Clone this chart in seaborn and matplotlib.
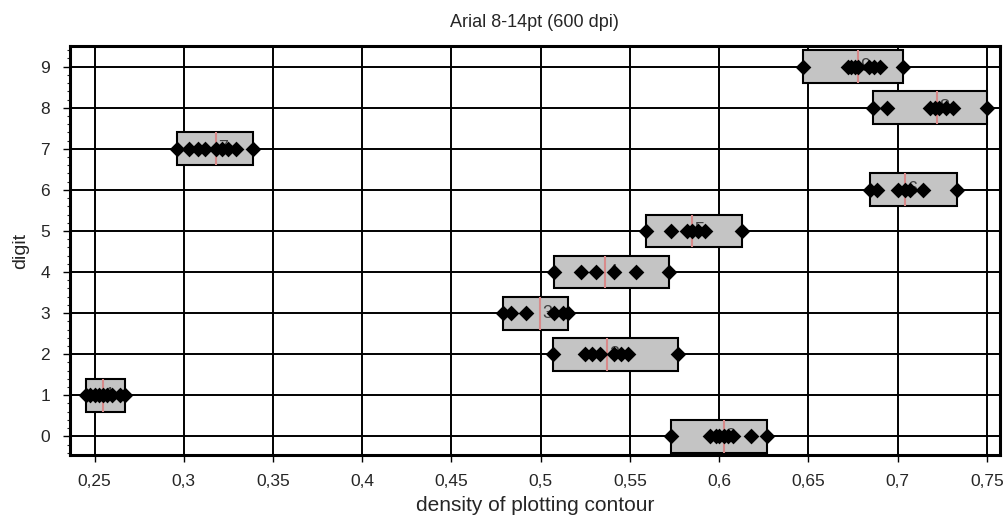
import numpy as np
import pandas as pd
import matplotlib
matplotlib.use("Agg")
import matplotlib.pyplot as plt
import matplotlib.ticker as mticker
import seaborn as sns

# ---- data ----
digits = [0, 1, 2, 3, 4, 5, 6, 7, 8, 9]
d0 = [0.573, 0.595, 0.598, 0.600, 0.6025, 0.605, 0.6075, 0.6176, 0.627]
d1 = [0.245, 0.2475, 0.250, 0.2525, 0.2545, 0.257, 0.260, 0.264, 0.267]
d2 = [0.507, 0.525, 0.529, 0.533, 0.541, 0.545, 0.549, 0.577]
d3 = [0.479, 0.4835, 0.4919, 0.5075, 0.5126, 0.5154]
d4 = [0.5075, 0.5226, 0.531, 0.5411, 0.5534, 0.5718]
d5 = [0.559, 0.573, 0.582, 0.585, 0.588, 0.592, 0.613]
d6 = [0.6846, 0.6885, 0.700, 0.704, 0.707, 0.714, 0.733]
d7 = [0.2964, 0.303, 0.308, 0.312, 0.318, 0.3215, 0.325, 0.329, 0.3388]
d8 = [0.686, 0.694, 0.718, 0.721, 0.723, 0.727, 0.731, 0.750]
d9 = [0.6467, 0.672, 0.674, 0.676, 0.678, 0.684, 0.687, 0.690, 0.703]
series = [d0, d1, d2, d3, d4, d5, d6, d7, d8, d9]
x_ticks = [0.25, 0.30, 0.35, 0.40, 0.45, 0.50, 0.55, 0.60, 0.65, 0.70, 0.75]

title = "Arial 8-14pt (600 dpi)"
xlabel = "density of plotting contour"
ylabel = "digit"

rows = [(d, v) for d, vals in zip(digits, series) for v in vals]
df = pd.DataFrame(rows, columns=["digit", "density"])
stats = df.groupby("digit")["density"].agg(["min", "max", "median"]).reset_index()

sns.set_style("white")
plt.rcParams["font.family"] = ["Liberation Sans", "DejaVu Sans"]

fig = plt.figure(figsize=(10.08, 5.24), dpi=100)
ax = fig.add_axes([0.069, 0.132, 0.923, 0.780])

ax.set_axisbelow(True)
ax.grid(True, color="black", linewidth=1.4)

# boxes spanning min..max
ax.barh(stats["digit"], stats["max"] - stats["min"], left=stats["min"], height=0.8,
        color="#c4c4c4", edgecolor="black", linewidth=1.5, zorder=2)
# medians
ax.vlines(stats["median"], stats["digit"] - 0.4, stats["digit"] + 0.4,
          color="#d88a8a", linewidth=1.5, zorder=3)
# digit glyph at median (as in the reference)
for _, r in stats.iterrows():
    ax.text(r["median"] + 0.004, r["digit"], str(int(r["digit"])), fontsize=13,
            color="#404040", ha="center", va="center", zorder=3)

sns.stripplot(data=df, x="density", y="digit", orient="h", native_scale=True,
              jitter=False, marker="D", size=8, color="black", ax=ax, zorder=4)

ax.set_xlim(0.236, 0.7573)
ax.set_ylim(-0.45, 9.5)
ax.set_xticks(x_ticks)
ax.xaxis.set_major_formatter(mticker.FuncFormatter(lambda v, p: ("%g" % v).replace(".", ",")))
ax.set_yticks(digits)
ax.set_yticklabels([str(d) for d in digits])
ax.yaxis.set_minor_locator(mticker.MultipleLocator(0.2))
ax.tick_params(axis="both", which="major", length=5, width=1, labelsize=12.5, color="black", direction="out")
ax.tick_params(axis="x", which="major", pad=9)
ax.tick_params(axis="y", which="major", pad=9)
ax.tick_params(axis="y", which="minor", length=2, width=0.8, left=True)
ax.tick_params(left=True, bottom=True)

for s in ax.spines.values():
    s.set_visible(True)
    s.set_color("black")
    s.set_linewidth(2.2)

ax.set_xlabel(xlabel, fontsize=15, labelpad=5)
ax.set_ylabel(ylabel, fontsize=14, labelpad=8)
ax.set_title(title, fontsize=13, pad=14)

fig.savefig("out.png", dpi=100)
